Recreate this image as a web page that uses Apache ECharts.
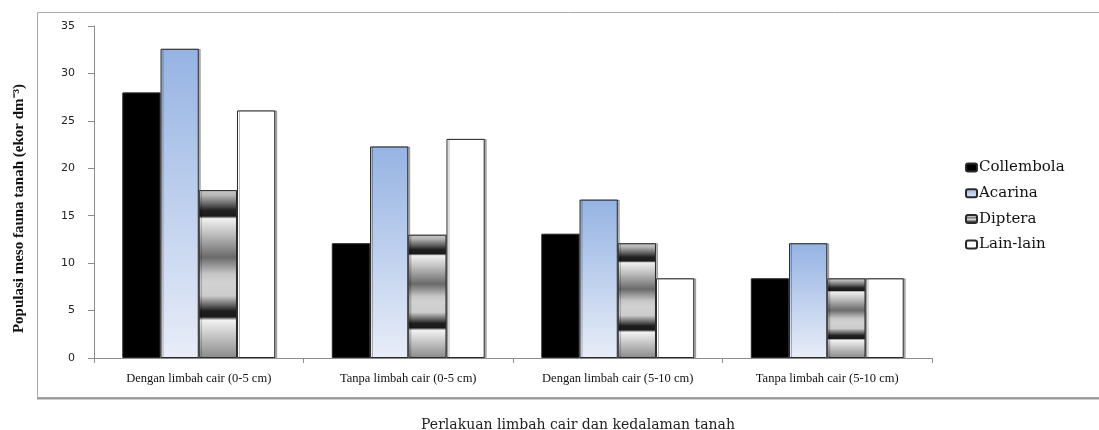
<!DOCTYPE html>
<html>
<head>
<meta charset="utf-8">
<script src="https://cdn.jsdelivr.net/npm/echarts@6/dist/echarts.min.js"></script>
<style>
html,body{margin:0;padding:0;background:#fff;}
#c{width:1099px;height:430px;}
</style>
</head>
<body>
<div id="c"></div>
<script>
const categories = ['Dengan limbah cair (0-5 cm)', 'Tanpa limbah cair (0-5 cm)', 'Dengan limbah cair (5-10 cm)', 'Tanpa limbah cair (5-10 cm)'];
const collembola = [28, 12.1, 13.1, 8.4];
const acarina = [32.6, 22.3, 16.7, 12.1];
const diptera = [17.7, 13.0, 12.1, 8.4];
const lainLain = [26.1, 23.1, 8.4, 8.4];
const seriesNames = ['Collembola', 'Acarina', 'Diptera', 'Lain-lain'];
const yTicks = [0, 5, 10, 15, 20, 25, 30, 35];

const chart = echarts.init(document.getElementById('c'));

const dipteraGrad = new echarts.graphic.LinearGradient(0, 0, 0, 1, [
  {offset: 0, color: '#c8c8c8'},
  {offset: 0.03, color: '#b8b8b8'},
  {offset: 0.08, color: '#6a6a6a'},
  {offset: 0.12, color: '#222222'},
  {offset: 0.155, color: '#1a1a1a'},
  {offset: 0.17, color: '#f0f0f0'},
  {offset: 0.26, color: '#c0c0c0'},
  {offset: 0.40, color: '#6a6a6a'},
  {offset: 0.50, color: '#c6c6c6'},
  {offset: 0.55, color: '#d2d2d2'},
  {offset: 0.63, color: '#cccccc'},
  {offset: 0.69, color: '#5a5a5a'},
  {offset: 0.72, color: '#1e1e1e'},
  {offset: 0.755, color: '#1a1a1a'},
  {offset: 0.775, color: '#f2f2f2'},
  {offset: 0.88, color: '#c0c0c0'},
  {offset: 1, color: '#8a8a8a'}
]);
const acarinaGrad = new echarts.graphic.LinearGradient(0, 0, 0, 1, [
  {offset: 0, color: '#95b3e3'},
  {offset: 1, color: '#e8edf8'}
]);

const fills = ['#000000', acarinaGrad, dipteraGrad, '#ffffff'];
const datasets = [collembola, acarina, diptera, lainLain];

const series = seriesNames.map((n, i) => ({
  name: n,
  type: 'bar',
  data: datasets[i],
  barGap: '0%',
  barCategoryGap: '27%',
  itemStyle: {
    color: fills[i],
    borderColor: '#2a2a2a',
    borderWidth: 1,
    shadowColor: 'rgba(0,0,0,0.28)',
    shadowOffsetX: 2,
    shadowOffsetY: 0,
    shadowBlur: 0
  },
  emphasis: {disabled: true}
}));

chart.setOption({
  animation: false,
  backgroundColor: '#ffffff',
  grid: {left: 94, right: 167, top: 26, bottom: 72, outerBoundsMode: 'none', containLabel: false},
  legend: {
    orient: 'vertical',
    left: 960,
    top: 155,
    itemWidth: 11,
    itemHeight: 8,
    itemGap: 10.7,
    data: seriesNames,
    textStyle: {fontFamily: 'DejaVu Serif', fontSize: 15, color: '#111', padding: [0,0,0,-3]}
  },
  xAxis: {
    type: 'category',
    data: categories,
    axisLine: {lineStyle: {color: '#8c8c8c', width: 1}},
    axisTick: {show: true, length: 5, lineStyle: {color: '#8c8c8c'}},
    axisLabel: {fontFamily: 'Liberation Serif', fontSize: 12.5, color: '#111', margin: 14, interval: 0},
    name: 'Perlakuan limbah cair dan kedalaman tanah',
    nameLocation: 'middle',
    nameGap: 60,
    nameTextStyle: {fontFamily: 'DejaVu Serif', fontSize: 14, color: '#222', padding: [0, 0, 0, 130]}
  },
  yAxis: {
    type: 'value',
    min: 0,
    max: 35,
    interval: 5,
    axisLine: {show: true, lineStyle: {color: '#8c8c8c', width: 1}},
    axisTick: {show: true, length: 6, lineStyle: {color: '#8c8c8c'}},
    splitLine: {show: false},
    axisLabel: {fontFamily: 'DejaVu Sans', fontSize: 11, color: '#222', margin: 19,
      formatter: v => yTicks.includes(v) ? String(v) : ''}
  },
  graphic: [
    {type: 'rect', shape: {x: 37.5, y: 12.5, width: 1100, height: 385}, style: {fill: null, stroke: '#aaaaaa', lineWidth: 1}, silent: true, z: -10},
    {type: 'line', shape: {x1: 37, y1: 398.5, x2: 1099, y2: 398.5}, style: {stroke: '#9a9a9a', lineWidth: 2}, silent: true, z: -10},
    {type: 'text', left: 12, top: 84, rotation: Math.PI / 2,
      style: {text: 'Populasi meso fauna tanah (ekor dm\u207B\u00B3)', fontFamily: 'Liberation Serif', fontSize: 15, fontWeight: 'bold', fill: '#111'}}
  ],
  series: series
});
</script>
</body>
</html>
